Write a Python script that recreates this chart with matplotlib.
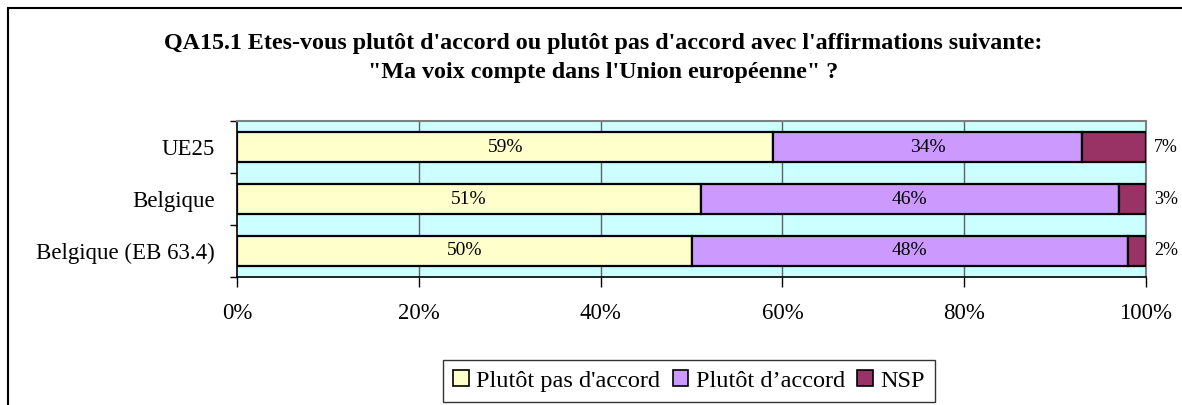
import matplotlib
matplotlib.use("Agg")
import matplotlib.pyplot as plt
from matplotlib.patches import Rectangle, Patch
import numpy as np

# ---------- DATA ----------
categories = ["UE25", "Belgique", "Belgique (EB 63.4)"]
pas_accord = [59, 51, 50]
accord = [34, 46, 48]
nsp = [7, 3, 2]
series_names = ["Plutôt pas d'accord", "Plutôt d\u2019accord", "NSP"]
x_ticks = [0, 20, 40, 60, 80, 100]
title = ("QA15.1 Etes-vous plutôt d'accord ou plutôt pas d'accord avec l'affirmations suivante:\n"
         "\"Ma voix compte dans l'Union européenne\" ?")

# couleurs style Excel
c_pas = "#FFFFCC"
c_acc = "#CC99FF"
c_nsp = "#993366"
bg = "#CCFFFF"

plt.rcParams["font.family"] = ["Liberation Serif", "DejaVu Serif"]

W, H = 1182, 405
fig = plt.figure(figsize=(W / 100, H / 100), dpi=100, facecolor="white")
ax = fig.add_axes([237 / W, 1 - 277 / H, (1146 - 237) / W, (277 - 121) / H])
ax.set_facecolor(bg)

ypos = np.arange(len(categories))[::-1]
h = 0.56
left = np.zeros(len(categories))
for vals, col in [(pas_accord, c_pas), (accord, c_acc), (nsp, c_nsp)]:
    ax.barh(ypos, vals, left=left, height=h, color=col, edgecolor="black",
            linewidth=1.6, zorder=3)
    left = left + np.array(vals)

# étiquettes des valeurs
for y, a, b, c in zip(ypos, pas_accord, accord, nsp):
    ax.text(a / 2, y, f"{a}%", ha="center", va="center", fontsize=14, zorder=4)
    ax.text(a + b / 2, y, f"{b}%", ha="center", va="center", fontsize=14, zorder=4)
    ax.annotate(f"{c}%", xy=(100, y), xytext=(6, 0), textcoords="offset points",
                ha="left", va="center", fontsize=13, annotation_clip=False)

ax.set_xlim(0, 100)
ax.set_ylim(-0.5, len(categories) - 0.5)
ax.set_xticks(x_ticks)
ax.set_xticklabels([f"{t}%" for t in x_ticks], fontsize=16.5)
ax.set_yticks(ypos)
ax.set_yticklabels(categories, fontsize=16.5)
ax.set_yticks(np.arange(-0.5, len(categories)), minor=True)
ax.tick_params(axis="y", which="major", length=0, pad=16)
ax.tick_params(axis="y", which="minor", length=5, width=1, direction="out")
ax.tick_params(axis="x", length=7, width=1, direction="out", pad=12)

for v in x_ticks[1:-1]:
    ax.axvline(v, color="#606060", linewidth=1, zorder=1)

for s in ["top", "right"]:
    ax.spines[s].set_color("#808080")
    ax.spines[s].set_linewidth(1.5)
for s in ["left", "bottom"]:
    ax.spines[s].set_color("black")
    ax.spines[s].set_linewidth(1.2)

fig.text(603 / W, 1 - 58 / H, title, ha="center", va="center", fontsize=17.3,
         fontweight="bold", linespacing=1.55)

handles = [Patch(facecolor=c, edgecolor="black", linewidth=1.2) for c in (c_pas, c_acc, c_nsp)]
leg = fig.legend(handles, series_names, loc="center", bbox_to_anchor=(689 / W, 1 - 381 / H),
                 ncol=3, fontsize=17.5, frameon=True, fancybox=False, handlelength=0.65,
                 handleheight=0.6, handletextpad=0.3, columnspacing=0.5, borderpad=0.42,
                 borderaxespad=0)
leg.get_frame().set_edgecolor("black")
leg.get_frame().set_linewidth(1)

# cadre du graphique (haut et gauche visibles)
fig.patches.append(Rectangle((8 / W, -0.2), 2, 1.2 - 8 / H, transform=fig.transFigure,
                             fill=False, edgecolor="black", linewidth=1.5))

fig.savefig("out.png", dpi=100, facecolor="white")
